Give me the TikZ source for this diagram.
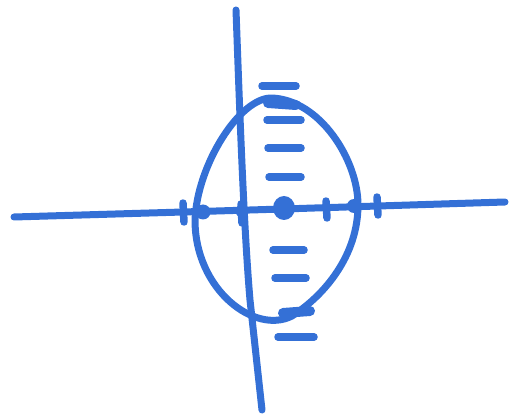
\documentclass[tikz,border=0pt]{standalone}
\begin{document}
\begin{tikzpicture}[x=1pt,y=-1pt,
  pen/.style={draw=ink,line width=7pt,line cap=round,line join=round},
  bar/.style={draw=ink,line width=7.5pt,line cap=round},
  tickmark/.style={draw=ink,line width=7.5pt,line cap=round},
  blob/.style={fill=ink}]
\definecolor{ink}{RGB}{52,112,214}
\useasboundingbox (0,0) rectangle (509,414);
% horizontal axis
\draw[pen] (14,217) -- (183,212) -- (283,209) -- (505,202);
% vertical axis
\draw[pen] (236,10) .. controls (240,120) and (244,230) .. (250,300) -- (262,410);
% lens
\draw[pen] (272,98) .. controls (320,100) and (358,160) .. (358,205)
  .. controls (358,255) and (325,295) .. (292,316)
  .. controls (255,335) and (195,290) .. (195,220)
  .. controls (197,165) and (240,97) .. cycle;
% dashes along centre
\foreach \xa/\xb/\yy in {262/296/86, 267/301/120, 268/301/148, 269/301/177,
  273/304/250, 275/306/278, 278/314/337}
  \draw[bar] (\xa,\yy) -- (\xb,\yy);
% top and bottom dark marks
\draw[bar,line width=10pt] (268,103) -- (296,105);
\draw[bar,line width=10pt] (283,313) -- (310,311);
% ticks on horizontal axis
\draw[tickmark] (183,203) -- (184,222);
\draw[tickmark] (326,201) -- (327,218);
\draw[tickmark] (377,197) -- (378,215);
\draw[tickmark] (241,204) -- (242,223);
% intersection dots
\fill[blob] (203,212) circle (7.5);
\fill[blob] (242,211) circle (6.5);
\fill[blob] (284,208) ellipse (11 and 12);
\fill[blob] (354,206) circle (7);
\end{tikzpicture}
\end{document}
